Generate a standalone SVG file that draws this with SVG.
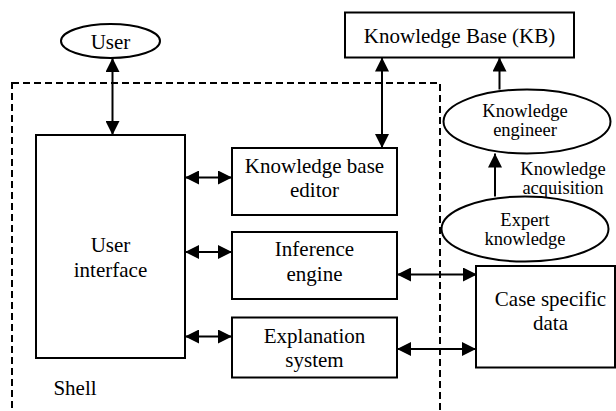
<svg xmlns="http://www.w3.org/2000/svg" width="616" height="411" viewBox="0 0 616 411">
<style>
.box{fill:#fff;stroke:#000;stroke-width:2}
.t{font-family:'Liberation Serif','Times New Roman',Tinos,Times,'Nimbus Roman','DejaVu Serif',serif;font-size:21px;fill:#000;text-anchor:middle}
.s{font-family:'Liberation Serif','Times New Roman',Tinos,Times,'Nimbus Roman','DejaVu Serif',serif;font-size:18.5px;fill:#000;text-anchor:middle}
.c{stroke:#000;stroke-width:2;fill:none}
.shell{fill:none;stroke:#000;stroke-width:2;stroke-dasharray:7 4}
</style>
<defs>
<marker id="ah" markerUnits="userSpaceOnUse" markerWidth="14" markerHeight="14" refX="14" refY="7" orient="auto-start-reverse">
<path d="M0,0 L14,7 L0,14 z" fill="#000"/>
</marker>
</defs>
<rect id="shell" class="shell" x="12" y="83" width="428" height="345"/>
<g id="user"><ellipse class="box" cx="110.5" cy="41" rx="49.5" ry="17"/><text class="t" x="110.5" y="48.5">User</text></g>
<g id="ui"><rect class="box" x="36" y="135" width="149" height="223"/><text class="t" x="110.5" y="252">User</text><text class="t" x="110.5" y="277">interface</text></g>
<g id="kbe"><rect class="box" x="232" y="148" width="165" height="67"/><text class="t" x="314.5" y="172.5">Knowledge base</text><text class="t" x="314.5" y="197">editor</text></g>
<g id="ie"><rect class="box" x="232" y="232" width="165" height="67"/><text class="t" x="314.5" y="256">Inference</text><text class="t" x="314.5" y="280.5">engine</text></g>
<g id="es"><rect class="box" x="232" y="317.5" width="165" height="60"/><text class="t" x="314.5" y="343">Explanation</text><text class="t" x="314.5" y="366.5">system</text></g>
<g id="kb"><rect class="box" x="345" y="12.5" width="229" height="45"/><text class="t" x="459.5" y="43">Knowledge Base (KB)</text></g>
<g id="ke"><ellipse class="box" cx="527" cy="121.5" rx="83.5" ry="32"/><text class="s" x="525" y="117">Knowledge</text><text class="s" x="525" y="136">engineer</text></g>
<g id="ek"><ellipse class="box" cx="525" cy="229" rx="83.5" ry="32.5"/><text class="s" x="525" y="226">Expert</text><text class="s" x="525" y="245">knowledge</text></g>
<g id="csd"><rect class="box" x="476" y="266" width="139" height="101.5"/><text class="t" x="550.5" y="306">Case specific</text><text class="t" x="550.5" y="330">data</text></g>
<text id="shell-label" class="t" x="75" y="395">Shell</text>
<text id="ka-label" class="s" x="563" y="175">Knowledge</text>
<text id="ka-label2" class="s" x="563" y="193.5">acquisition</text>
<g id="connectors">
<line class="c" x1="112.5" y1="58" x2="112.5" y2="135" marker-start="url(#ah)" marker-end="url(#ah)"/>
<line class="c" x1="382" y1="57.5" x2="382" y2="148" marker-start="url(#ah)" marker-end="url(#ah)"/>
<line class="c" x1="185" y1="177.5" x2="232" y2="177.5" marker-start="url(#ah)" marker-end="url(#ah)"/>
<line class="c" x1="185" y1="252" x2="232" y2="252" marker-start="url(#ah)" marker-end="url(#ah)"/>
<line class="c" x1="185" y1="336.5" x2="232" y2="336.5" marker-start="url(#ah)" marker-end="url(#ah)"/>
<line class="c" x1="397" y1="274.5" x2="477" y2="274.5" marker-start="url(#ah)" marker-end="url(#ah)"/>
<line class="c" x1="397" y1="349" x2="476" y2="349" marker-start="url(#ah)" marker-end="url(#ah)"/>
<line class="c" x1="499.5" y1="89.5" x2="499.5" y2="57.5" marker-end="url(#ah)"/>
<line class="c" x1="495" y1="196.5" x2="495" y2="153.5" marker-end="url(#ah)"/>
</g>
</svg>
